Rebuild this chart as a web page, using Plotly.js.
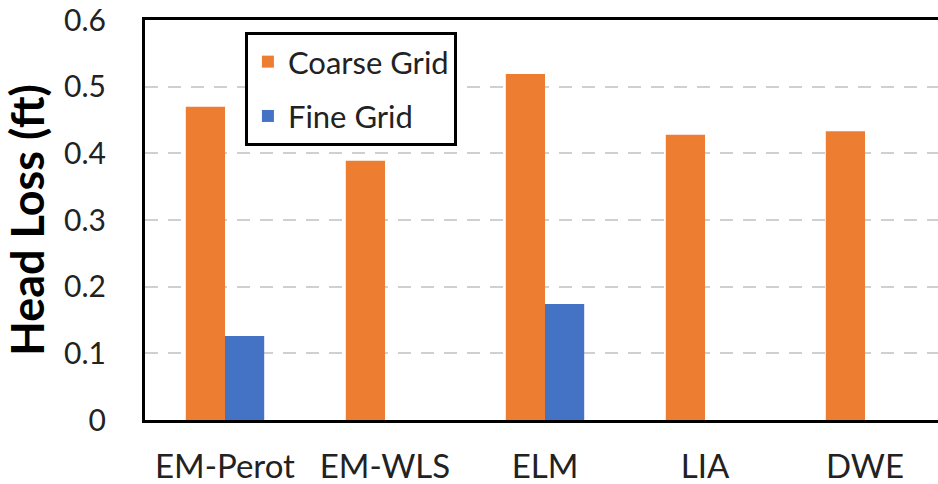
<!DOCTYPE html>
<html>
<head>
<meta charset="utf-8">
<script src="https://cdn.plot.ly/plotly-3.0.1.min.js"></script>
<style>
  html, body { margin: 0; padding: 0; background: #ffffff; }
  #chart { width: 938px; height: 484px; }
</style>
</head>
<body>
<div id="chart"></div>
<script>
const categories = ["EM-Perot", "EM-WLS", "ELM", "LIA", "DWE"];
const coarseGrid = [0.47, 0.389, 0.519, 0.428, 0.433];
const fineGrid = [0.126, null, 0.174, null, null];
const yTickValues = [0, 0.1, 0.2, 0.3, 0.4, 0.5, 0.6];
const yTickLabels = ["0", "0.1", "0.2", "0.3", "0.4", "0.5", "0.6"];

const traces = [
  {
    type: "bar", name: "Coarse Grid", x: categories, y: coarseGrid,
    marker: { color: "#ED7D31" }, legendgroup: "a"
  },
  {
    type: "bar", name: "Fine Grid", x: categories, y: fineGrid,
    marker: { color: "#4472C4" }, legendgroup: "b"
  }
];

const layout = {
  width: 938, height: 484,
  margin: { l: 145, r: 0, t: 20, b: 64 },
  paper_bgcolor: "#ffffff", plot_bgcolor: "#ffffff",
  font: { family: "Lato, 'Open Sans', sans-serif", color: "#222222" },
  barmode: "group",
  bargap: 0.51,
  bargroupgap: 0,
  showlegend: true,
  legend: {
    x: 0.126, y: 0.97, xanchor: "left", yanchor: "top",
    bordercolor: "#000000", borderwidth: 3, bgcolor: "#ffffff",
    font: { size: 31, color: "#222222" },
    tracegroupgap: 11,
    traceorder: "grouped"
  },
  xaxis: {
    type: "category",
    range: [-0.5, -0.5 + 793 / 160],
    showline: true, linecolor: "#000000", linewidth: 3, mirror: true,
    showgrid: false, ticks: "",
    tickfont: { size: 33, color: "#222222" },
    ticklabelstandoff: 15,
    fixedrange: true
  },
  yaxis: {
    range: [0, 0.6],
    tickvals: yTickValues, ticktext: yTickLabels,
    showline: true, linecolor: "#000000", linewidth: 3,
    showgrid: true, gridcolor: "#d0d0d0", gridwidth: 2, griddash: "13px,10px",
    zeroline: false, ticks: "",
    tickfont: { size: 30, color: "#222222" },
    ticklabelstandoff: 30,
    title: { text: "Head Loss (ft)", font: { size: 45, color: "#000000", family: "Lato, sans-serif", weight: "bold" }, standoff: 8 },
    automargin: false,
    fixedrange: true
  }
};

Plotly.newPlot("chart", traces, layout, { displayModeBar: false, staticPlot: true });
</script>
</body>
</html>
